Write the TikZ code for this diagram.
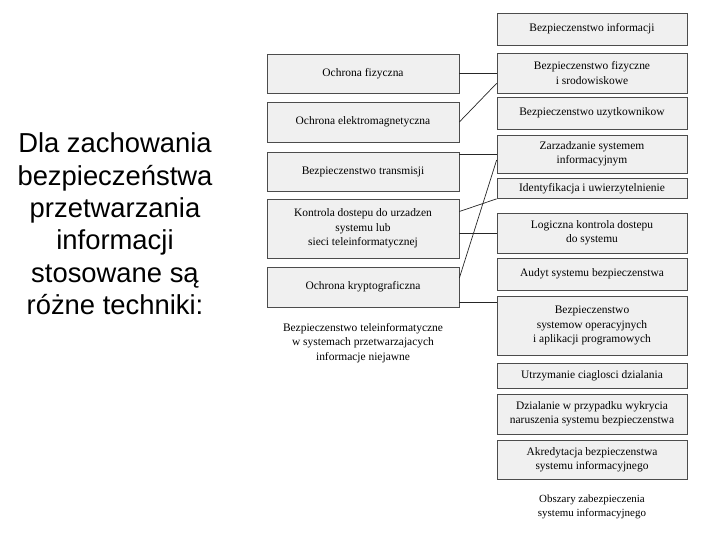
\documentclass[tikz,border=0pt]{standalone}
\usepackage{fontspec}
\setmainfont{Liberation Serif}
\newfontfamily\slidefont{Liberation Sans}

\tikzset{
    box/.style={draw=gray!60!black, fill=gray!12, line width=0.7bp, align=center,
        inner sep=1bp, font=\fontsize{11.5}{14.5}\selectfont},
    lbox/.style={box, minimum width=192bp},
    rbox/.style={box, minimum width=190bp},
    link/.style={line width=0.7bp, black!85},
    caption/.style={align=center, font=\fontsize{11.5}{14.5}\selectfont}
}

\begin{document}
\begin{tikzpicture}[x=1bp,y=-1bp]

    \useasboundingbox (0,0) rectangle (720,540);

    \node[align=center, font=\slidefont\fontsize{27.5}{32.5}\selectfont] (intro) at (115,224)
        {Dla zachowania\\bezpieczeństwa\\przetwarzania\\informacji\\stosowane są\\różne techniki:};

    \foreach \n/\y/\h/\t in {
        l1/73.5/39/{Ochrona fizyczna},
        l2/122/40/{Ochrona elektromagnetyczna},
        l3/171.5/39/{Bezpieczenstwo transmisji},
        l4/228.5/59/{Kontrola dostepu do urzadzen\\systemu lub\\sieci teleinformatycznej},
        l5/287/40/{Ochrona kryptograficzna}}
        \node[lbox, minimum height=\h bp] (\n) at (363,\y) {\t};

    \foreach \n/\y/\h/\t in {
        r1/29/32/{Bezpieczenstwo informacji},
        r2/73/40/{Bezpieczenstwo fizyczne\\i srodowiskowe},
        r3/113/32/{Bezpieczenstwo uzytkownikow},
        r4/154/38/{Zarzadzanie systemem\\informacyjnym},
        r5/188.5/20/{Identyfikacja i uwierzytelnienie},
        r6/233/40/{Logiczna kontrola dostepu\\do systemu},
        r7/274/32/{Audyt systemu bezpieczenstwa},
        r8/325.5/59/{Bezpieczenstwo\\systemow operacyjnych\\i aplikacji programowych},
        r9/375.5/25/{Utrzymanie ciaglosci dzialania},
        r10/414/40/{Dzialanie w przypadku wykrycia\\naruszenia systemu bezpieczenstwa},
        r11/459.5/39/{Akredytacja bezpieczenstwa\\systemu informacyjnego}}
        \node[rbox, minimum height=\h bp] (\n) at (592,\y) {\t};

    \node[caption] (lcap) at (363,343)
        {Bezpieczenstwo teleinformatyczne\\w systemach przetwarzajacych\\informacje niejawne};
    \node[caption, font=\fontsize{11}{14}\selectfont] (rcap) at (592,507)
        {Obszary zabezpieczenia\\systemu informacyjnego};

    \coordinate (k5) at ([yshift=5bp]l5.south east);

    \draw[link] (l1.east) -- (l1.east -| r2.west);
    \draw[link] (l2.east) -- ([yshift=10bp]r2.south west);
    \draw[link] (r4.west -| l3.east) -- (r4.west);
    \draw[link] ([yshift=17bp]l4.east) -- (r5.south west);
    \draw[link] (r6.west -| l4.east) -- (r6.west);
    \draw[link] ([yshift=9bp]l5.east) -- ([yshift=-6bp]r4.west);
    \draw[link] (k5) -- (k5 -| r8.west);

\end{tikzpicture}
\end{document}
